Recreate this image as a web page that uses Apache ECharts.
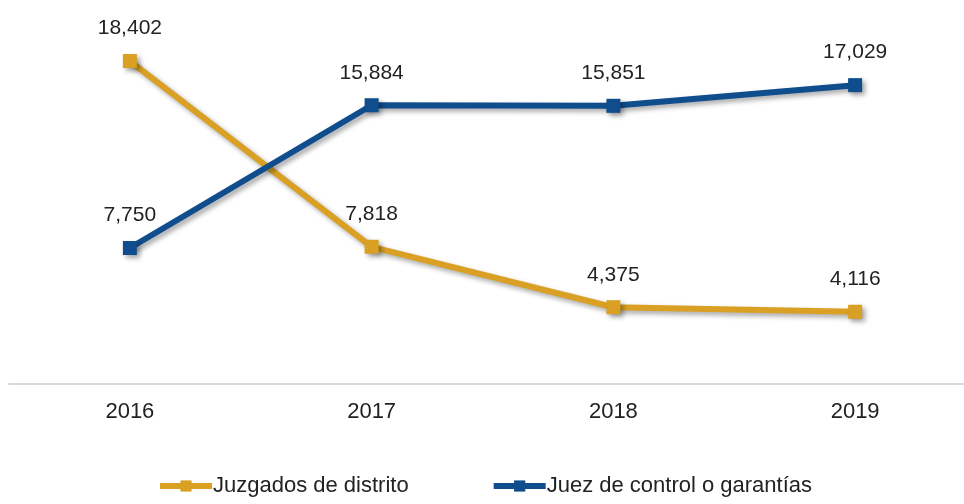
<!DOCTYPE html>
<html>
<head>
<meta charset="utf-8">
<script src="https://cdn.jsdelivr.net/npm/echarts@6/dist/echarts.min.js"></script>
<style>
  html, body { margin: 0; padding: 0; background: #fff; }
  #main { width: 964px; height: 504px; }
</style>
</head>
<body>
<div id="main"></div>
<script>
// datos
var years = ['2016', '2017', '2018', '2019'];
var juzgados = [18402, 7818, 4375, 4116];
var juez = [7750, 15884, 15851, 17029];

var gold = '#D9A023';
var blue = '#0F4D8C';

var chart = echarts.init(document.getElementById('main'));

function serie(name, data, color) {
    return {
        name: name,
        type: 'line',
        data: data,
        symbol: 'rect',
        symbolSize: 14,
        lineStyle: {
            color: color,
            width: 6,
            shadowColor: 'rgba(0,0,0,0.35)',
            shadowBlur: 5,
            shadowOffsetX: 3,
            shadowOffsetY: 3
        },
        itemStyle: {
            color: color,
            shadowColor: 'rgba(0,0,0,0.35)',
            shadowBlur: 5,
            shadowOffsetX: 3,
            shadowOffsetY: 3
        },
        label: {
            show: true,
            position: 'top',
            distance: 15,
            fontSize: 21,
            color: '#222',
            fontFamily: 'Liberation Sans',
            formatter: function (p) { return p.value.toLocaleString('en-US'); }
        },
        animation: false
    };
}

var option = {
    backgroundColor: '#fff',
    grid: { left: 9, width: 967, top: 33, bottom: 120, outerBoundsMode: 'none', containLabel: false },
    legend: {
        bottom: 2,
        left: 152,
        itemWidth: 52,
        itemHeight: 14,
        itemGap: 82,
        lineStyle: { width: 6 },
        textStyle: { fontSize: 22, color: '#222', fontFamily: 'Liberation Sans', padding: [0, 0, 0, -4] },
        data: ['Juzgados de distrito', 'Juez de control o garantías']
    },
    xAxis: {
        type: 'category',
        data: years,
        boundaryGap: true,
        axisLine: { lineStyle: { color: '#d9d9d9', width: 2 } },
        axisTick: { show: false },
        axisLabel: { fontSize: 22, color: '#222', margin: 17, fontFamily: 'Liberation Sans' }
    },
    yAxis: {
        type: 'value',
        min: 0,
        max: 20000,
        show: false,
        splitLine: { show: false }
    },
    series: [
        serie('Juzgados de distrito', juzgados, gold),
        serie('Juez de control o garantías', juez, blue)
    ]
};

chart.setOption(option);
</script>
</body>
</html>
